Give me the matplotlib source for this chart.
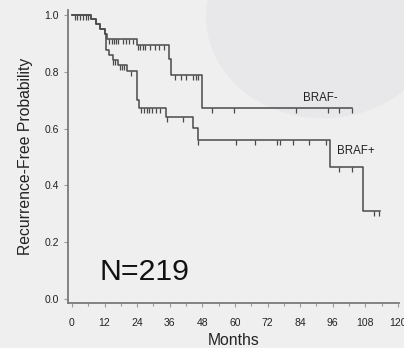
import matplotlib
matplotlib.use('Agg')
import matplotlib.pyplot as plt
import matplotlib.ticker as ticker
from matplotlib.patches import Ellipse
from matplotlib.path import Path

# Kaplan-Meier steps (months, survival)
braf_neg_times = [0, 7, 9, 10.5, 12, 13, 24, 35.8, 36.6, 47.7, 103.2]
braf_neg_surv = [1.0, 0.985, 0.968, 0.952, 0.935, 0.917, 0.894, 0.844, 0.788, 0.672, 0.672]
braf_neg_censor = [1, 2, 3, 4, 5, 6, 13.8, 14.6, 15.4, 16.2, 17, 18.9, 19.9, 20.9, 22.6,
                   24.4, 25.2, 26, 26.9, 28.7, 30.5, 32.1, 34, 38, 40.3, 42, 44.6, 45.6,
                   46.5, 51.7, 59.6, 82.4, 94.2, 98.2, 103.2]

braf_pos_times = [0, 7, 9, 10.5, 12, 12.5, 13.5, 15, 17, 20.3, 24, 24.5, 34.6, 44.6,
                  46.4, 95.1, 107.1, 113.2]
braf_pos_surv = [1.0, 0.985, 0.968, 0.952, 0.935, 0.877, 0.859, 0.841, 0.823, 0.803,
                 0.70, 0.674, 0.641, 0.602, 0.561, 0.466, 0.308, 0.308]
braf_pos_censor = [15.2, 15.8, 17.7, 18.5, 19.3, 21.9, 25.5, 26.5, 27.5, 28.5, 29.5, 31,
                   32.5, 34.8, 41, 46.4, 60.5, 67.5, 75.5, 76.5, 81.4, 87.2, 93.4, 98.3,
                   103.2, 111, 112.9]

x_ticks = list(range(0, 121, 12))
y_ticks = [0.0, 0.2, 0.4, 0.6, 0.8, 1.0]

BG = '#efefef'
LINE = '#4a4a4a'
TEXT = '#222222'
FONT = 'Liberation Sans'


def surv_at(times, surv, t):
    # value of the step curve at time t
    value = surv[0]
    for ti, si in zip(times, surv):
        if ti <= t:
            value = si
    return value


# censor tick hanging below the curve
tick_down = Path([(0, 0), (0, -1)])

fig = plt.figure(figsize=(4.04, 3.48), dpi=100, facecolor=BG)

# faint watermark blob in the upper right of the original
fig.patches.append(Ellipse((0.80, 0.95), 0.58, 0.58, transform=fig.transFigure,
                           facecolor='#e8e8ea', edgecolor='none', zorder=0))

ax = fig.add_axes([0.168, 0.129, 0.8205, 0.842])
ax.set_zorder(2)
ax.patch.set_visible(False)

for times, surv, censor in [(braf_neg_times, braf_neg_surv, braf_neg_censor),
                            (braf_pos_times, braf_pos_surv, braf_pos_censor)]:
    ax.step(times, surv, where='post', color=LINE, linewidth=1.1)
    cy = [surv_at(times, surv, t) for t in censor]
    ax.plot(censor, cy, linestyle='none', marker=tick_down, markersize=7,
            markeredgecolor=LINE, markeredgewidth=0.9)

ax.text(84.9, 0.698, 'BRAF-', fontsize=8.3, color=TEXT, family=FONT)
ax.text(97.6, 0.51, 'BRAF+', fontsize=8.3, color=TEXT, family=FONT)
ax.text(10.3, 0.067, 'N=219', fontsize=21.8, color='#111111', family=FONT)

ax.set_xlim(-1.5, 120.5)
ax.set_ylim(-0.015, 1.018)
ax.set_xticks(x_ticks)
ax.xaxis.set_minor_locator(ticker.MultipleLocator(6))
ax.set_yticks(y_ticks)
ax.yaxis.set_major_formatter(ticker.FormatStrFormatter('%.1f'))

for side in ['top', 'right']:
    ax.spines[side].set_visible(False)
for side in ['left', 'bottom']:
    ax.spines[side].set_color('#7a7a7a')
    ax.spines[side].set_linewidth(1.3)

ax.tick_params(axis='both', which='both', colors='#9a9a9a', labelcolor=TEXT,
               labelsize=7.5, length=3, width=0.8)
ax.tick_params(axis='x', which='minor', length=2)
ax.tick_params(axis='x', pad=8)
for label in ax.get_xticklabels() + ax.get_yticklabels():
    label.set_family(FONT)

ax.set_ylabel('Recurrence-Free Probability', fontsize=11.3, color=TEXT, family=FONT,
              labelpad=8)
ax.set_xlabel('Months', fontsize=11.3, color=TEXT, family=FONT, labelpad=3)

fig.savefig('out.png', dpi=100, facecolor=BG)
